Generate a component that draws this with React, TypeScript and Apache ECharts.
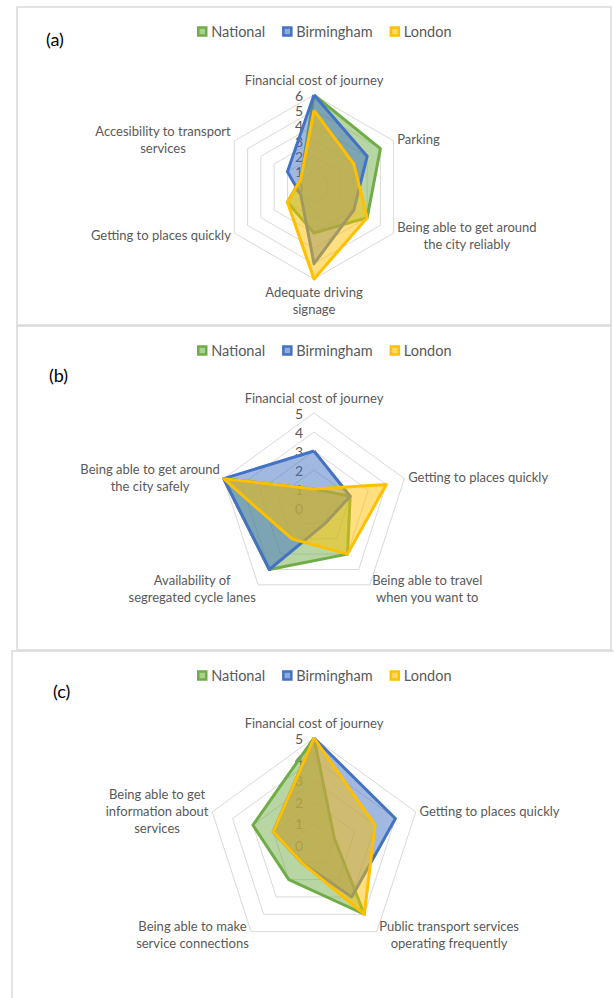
import React, { useEffect, useRef } from "react";
import * as echarts from "echarts";

// ---------- data ----------
const SERIES_NAMES = ["National", "Birmingham", "London"];
const LINE_COLORS = ["#70AD47", "#4472C4", "#FFC000"];
const LEGEND_INNER = ["#A9D18E", "#8FAADC", "#FFD966"];

// (a) Driving — categories in clockwise order starting at the top
const CATS_A = [
  "Financial cost of journey",
  "Parking",
  "Being able to get around\nthe city reliably",
  "Adequate driving\nsignage",
  "Getting to places quickly",
  "Accesibility to transport\nservices",
];
const NATIONAL_A = [6, 5, 4, 3, 2, 1];
const BIRMINGHAM_A = [6, 4, 3, 5, 1, 2];
const LONDON_A = [5, 3, 4, 6, 2, 1];
const TICKS_A = ["0", "1", "2", "3", "4", "5", "6"];

// (b) Cycling
const CATS_B = [
  "Financial cost of journey",
  "Getting to places quickly",
  "Being able to travel\nwhen you want to",
  "Availability of\nsegregated cycle lanes",
  "Being able to get around\nthe city safely",
];
const NATIONAL_B = [1, 2, 3, 4, 5];
const BIRMINGHAM_B = [3, 2, 1, 4, 5];
const LONDON_B = [1, 4, 3, 2, 5];
const TICKS_B = ["0", "1", "2", "3", "4", "5"];

// (c) Public transport
const CATS_C = [
  "Financial cost of journey",
  "Getting to places quickly",
  "Public transport services\noperating frequently",
  "Being able to make\nservice connections",
  "Being able to get\ninformation about\nservices",
];
const NATIONAL_C = [5, 1, 4, 2, 3];
const BIRMINGHAM_C = [5, 4, 3, 1, 2];
const LONDON_C = [5, 3, 4, 1, 2];
const TICKS_C = ["0", "1", "2", "3", "4", "5"];

const PANEL_LABELS = ["(a)", "(b)", "(c)"];

// ---------- styling ----------
const FONT = "Lato, 'Liberation Sans', sans-serif";
const TEXT_GREY = "#595959";

type Panel = {
  cats: string[];
  values: number[][];
  ticks: string[];
  center: [number, number];
  radius: number;
  legendTop: number;
};

const PANELS: Panel[] = [
  {
    cats: CATS_A,
    values: [NATIONAL_A, BIRMINGHAM_A, LONDON_A],
    ticks: TICKS_A,
    center: [314, 187],
    radius: 92,
    legendTop: 19,
  },
  {
    cats: CATS_B,
    values: [NATIONAL_B, BIRMINGHAM_B, LONDON_B],
    ticks: TICKS_B,
    center: [314, 508],
    radius: 95,
    legendTop: 338,
  },
  {
    cats: CATS_C,
    values: [NATIONAL_C, BIRMINGHAM_C, LONDON_C],
    ticks: TICKS_C,
    center: [314, 845],
    radius: 107,
    legendTop: 663,
  },
];

function buildOption() {
  const radars: any[] = [];
  const series: any[] = [];
  const legends: any[] = [];

  PANELS.forEach((p, pi) => {
    const n = p.cats.length;
    // ECharts lays indicators counter-clockwise; reorder to get Excel's clockwise layout
    const order = [0];
    for (let i = n - 1; i >= 1; i--) order.push(i);
    const max = p.ticks.length - 1;

    const nameStyle = {
      align: "center",
      color: TEXT_GREY,
      fontSize: 13,
      fontFamily: FONT,
      lineHeight: 17,
    };

    radars.push({
      center: p.center,
      radius: p.radius,
      startAngle: 90,
      shape: "polygon",
      splitNumber: max,
      nameGap: 4,
      indicator: order.map((ci, k) => {
        const ind: any = { name: p.cats[ci], min: 0, max };
        if (k === 0) ind.axisLabel = { show: true };
        return ind;
      }),
      axisName: {
        color: TEXT_GREY,
        fontSize: 13,
        fontFamily: FONT,
        formatter: (name: string) => {
          const key = name === p.cats[0] ? "t" : "c";
          return name
            .split("\n")
            .map((l) => `{${key}|${l}}`)
            .join("\n");
        },
        rich: {
          c: nameStyle,
          t: { ...nameStyle, padding: [0, 0, 2, 0] },
        },
      },
      splitLine: { lineStyle: { color: "#D9D9D9", width: 1 } },
      splitArea: { show: false },
      axisLine: { show: false },
      axisTick: { show: false },
      axisLabel: {
        show: false,
        color: TEXT_GREY,
        fontSize: 14,
        lineHeight: 13,
        fontFamily: FONT,
        margin: 11,
        formatter: (v: number) => p.ticks[Math.round(v)] ?? "",
      },
    });

    series.push({
      type: "radar",
      radarIndex: pi,
      symbol: "none",
      data: SERIES_NAMES.map((name, k) => ({
        name,
        value: order.map((ci) => p.values[k][ci]),
        lineStyle: { color: LINE_COLORS[k], width: 3 },
        areaStyle: { color: LINE_COLORS[k], opacity: 0.5 },
        itemStyle: { color: LINE_COLORS[k] },
      })),
    });

    legends.push({
      top: p.legendTop,
      left: 192,
      orient: "horizontal",
      icon: "rect",
      itemWidth: 8,
      itemHeight: 8,
      itemGap: 17,
      selectedMode: false,
      textStyle: { color: TEXT_GREY, fontSize: 14.5, fontFamily: FONT },
      data: SERIES_NAMES.map((name, k) => ({
        name,
        itemStyle: {
          color: LEGEND_INNER[k],
          borderColor: LINE_COLORS[k],
          borderWidth: 2.5,
        },
      })),
    });
  });

  const borderStyle = { fill: "#FFFFFF", stroke: "#D9D9D9", lineWidth: 1.5 };
  const graphic: any[] = [
    { type: "rect", z: -10, silent: true, shape: { x: 17, y: 7, width: 594, height: 318 }, style: borderStyle },
    { type: "rect", z: -10, silent: true, shape: { x: 17, y: 326, width: 594, height: 324 }, style: borderStyle },
    { type: "rect", z: -10, silent: true, shape: { x: 12, y: 651, width: 640, height: 400 }, style: borderStyle },
    { type: "text", x: 46, y: 30, style: { text: PANEL_LABELS[0], fontSize: 18, fontFamily: FONT, fill: "#000000" } },
    { type: "text", x: 49, y: 366, style: { text: PANEL_LABELS[1], fontSize: 18, fontFamily: FONT, fill: "#000000" } },
    { type: "text", x: 53, y: 682, style: { text: PANEL_LABELS[2], fontSize: 18, fontFamily: FONT, fill: "#000000" } },
  ];

  return {
    animation: false,
    backgroundColor: "#FFFFFF",
    textStyle: { fontFamily: FONT },
    legend: legends,
    radar: radars,
    series,
    graphic,
  };
}

export default function App() {
  const ref = useRef<HTMLDivElement>(null);
  useEffect(() => {
    if (!ref.current) return;
    const chart = echarts.init(ref.current, undefined, { renderer: "svg" });
    chart.setOption(buildOption() as any);
    return () => chart.dispose();
  }, []);
  return (
    <div
      ref={ref}
      style={{ position: "absolute", left: 0, top: 0, width: 614, height: 998 }}
    />
  );
}
